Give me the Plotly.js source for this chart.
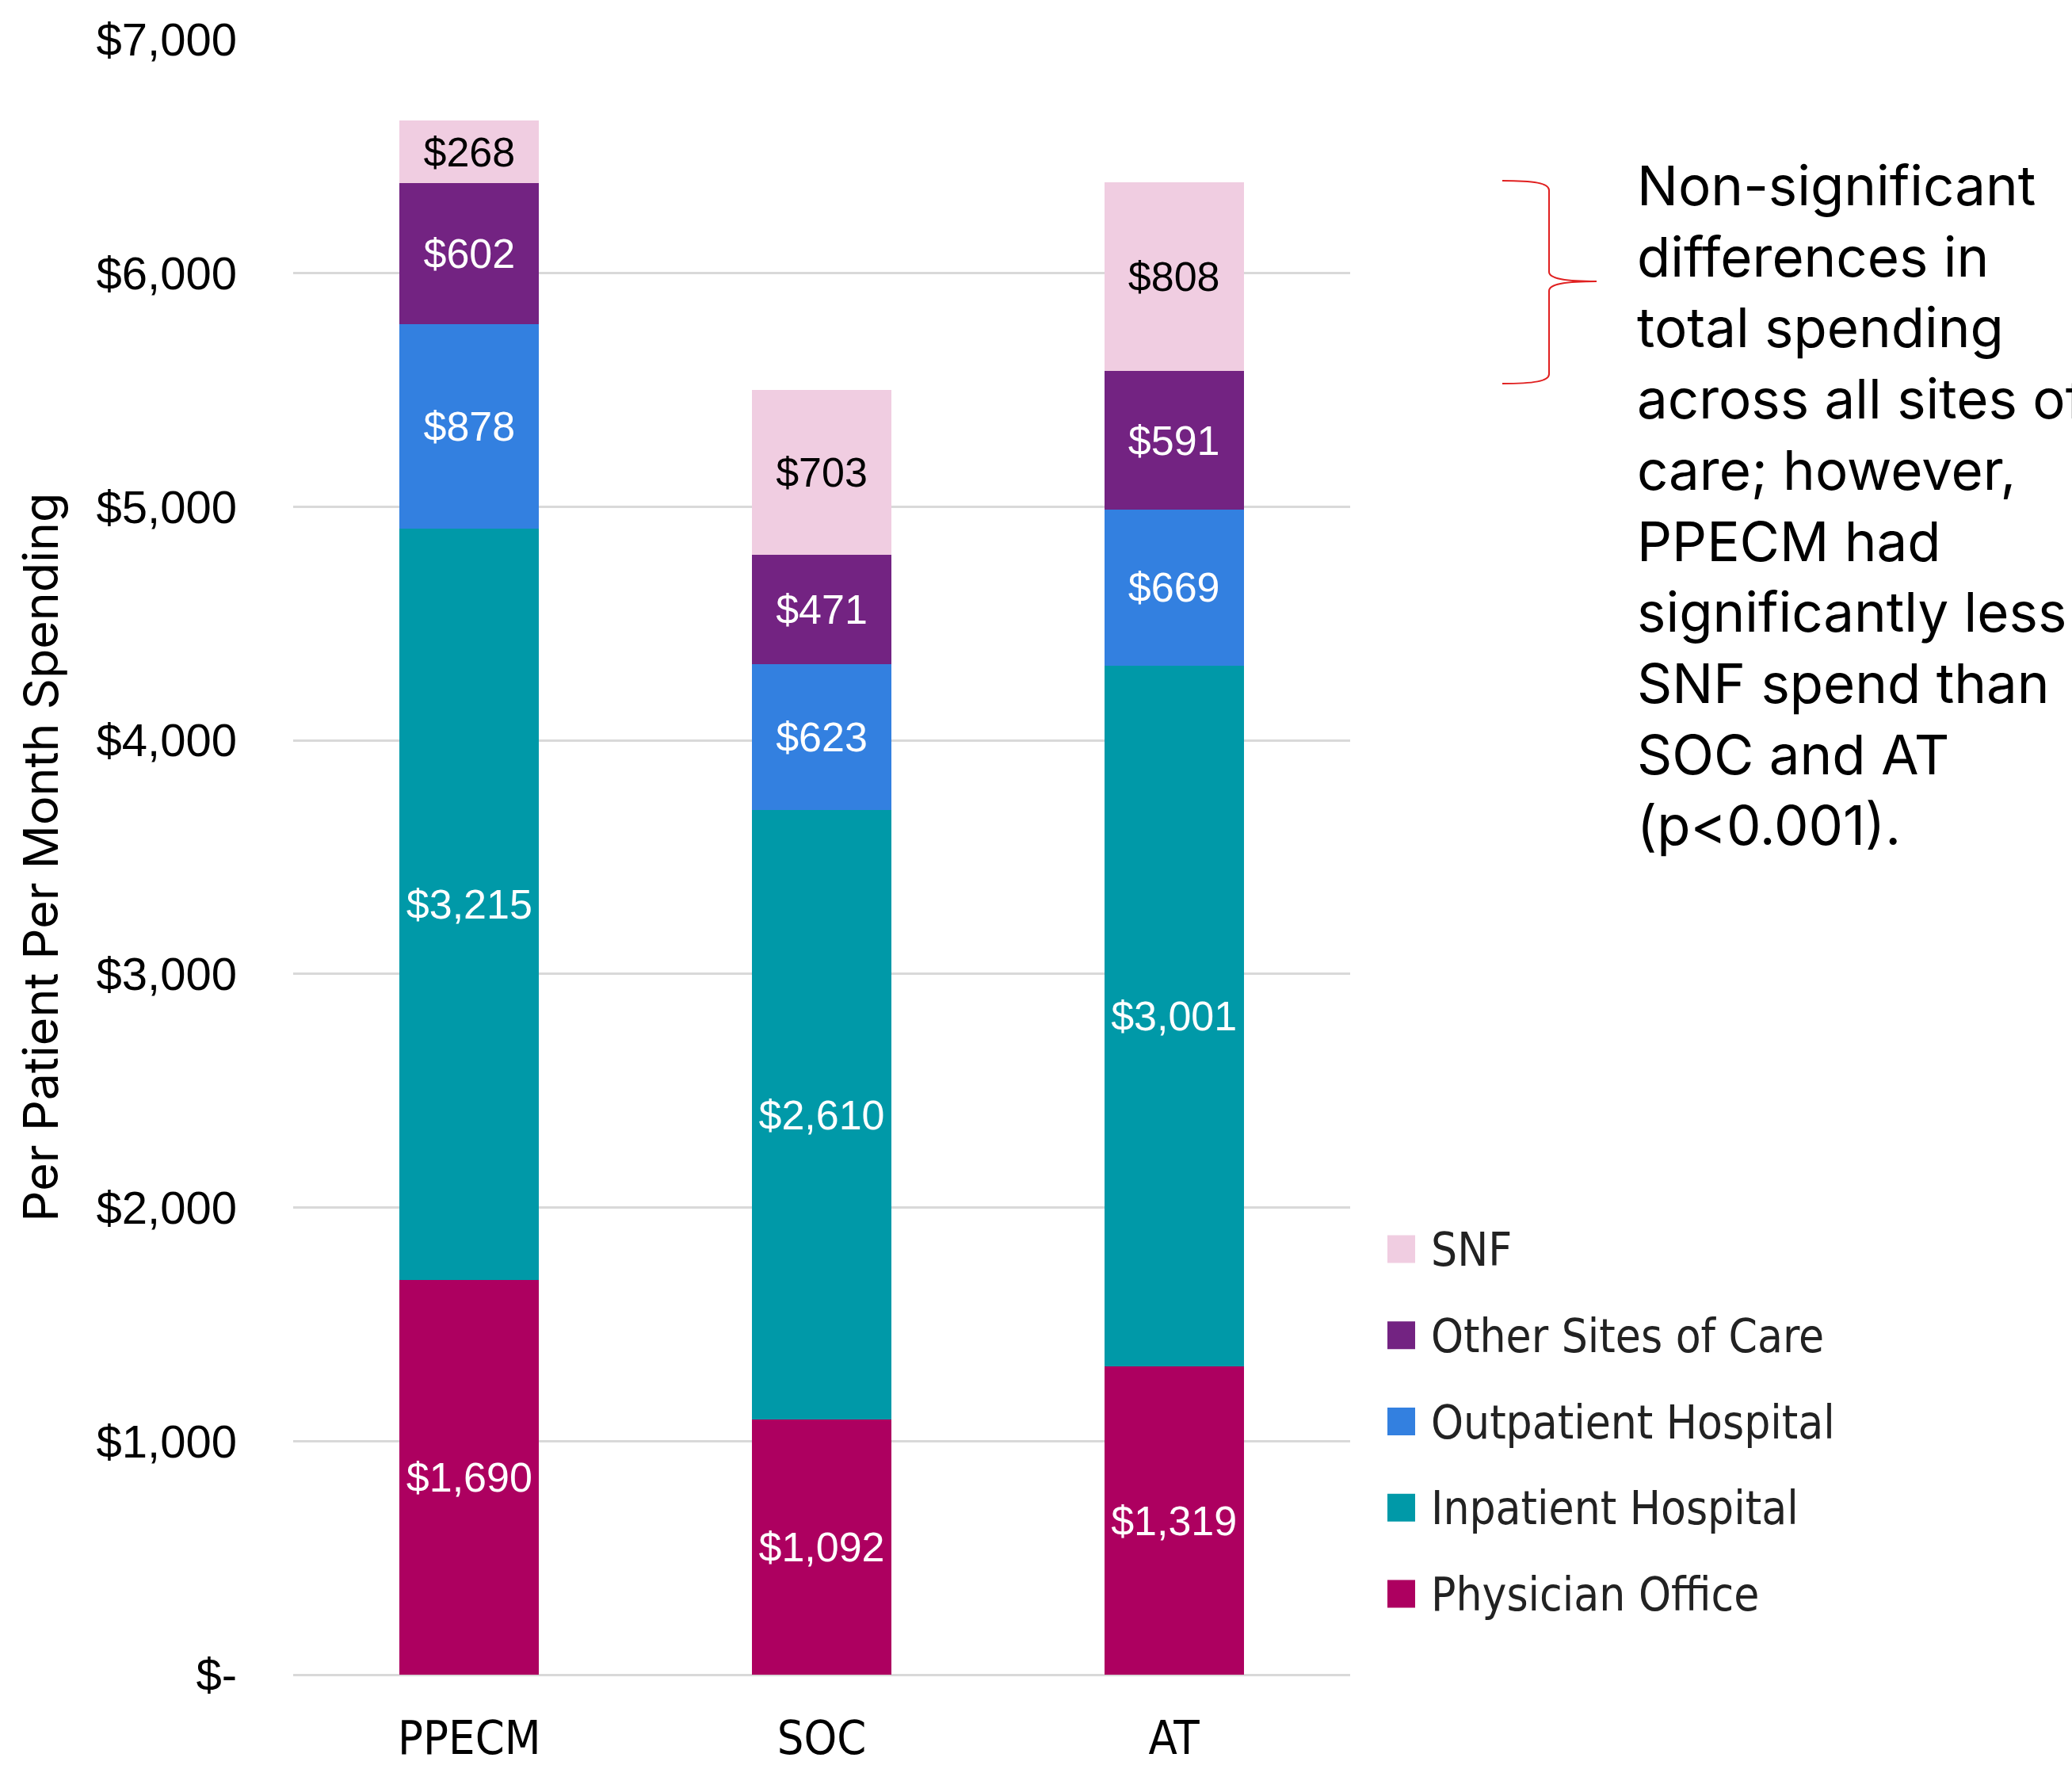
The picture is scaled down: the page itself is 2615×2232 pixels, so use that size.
<!DOCTYPE html>
<html>
<head>
<meta charset="utf-8">
<script src="https://cdn.plot.ly/plotly-3.0.1.min.js"></script>
<style>html,body{margin:0;padding:0;background:#fff;}#chart{width:2615px;height:2232px;}</style>
</head>
<body>
<div id="chart"></div>
<script>
// ---- data ----
const categories = ["PPECM", "SOC", "AT"];
const physicianOffice = [1690, 1092, 1319];
const inpatientHospital = [3215, 2610, 3001];
const outpatientHospital = [878, 623, 669];
const otherSites = [602, 471, 591];
const snf = [268, 703, 808];
const seriesNames = ["Physician Office", "Inpatient Hospital", "Outpatient Hospital", "Other Sites of Care", "SNF"];
const tickVals = [0, 1000, 2000, 3000, 4000, 5000, 6000, 7000];
const tickText = ["$-", "$1,000", "$2,000", "$3,000", "$4,000", "$5,000", "$6,000", "$7,000"];
const noteText = "Non-significant<br>differences in<br>total spending<br>across all sites of<br>care; however,<br>PPECM had<br>significantly less<br>SNF spend than<br>SOC and AT<br>(p<0.001).";

// ---- styling ----
const colors = ["#AD0060", "#0099A8", "#3380E0", "#732382", "#F0CDE1"];
const textColors = ["#ffffff", "#ffffff", "#ffffff", "#ffffff", "#000000"];
const W = 2615, H = 2232;
const M = {l: 370, r: 911, t: 50, b: 119};
const pw = W - M.l - M.r, ph = H - M.t - M.b;
const px = x => (x - M.l) / pw;
const py = y => (H - M.b - y) / ph;

const seriesValues = [physicianOffice, inpatientHospital, outpatientHospital, otherSites, snf];
const traces = seriesValues.map((vals, i) => ({
  type: "bar",
  name: seriesNames[i],
  x: categories,
  y: vals,
  showlegend: false,
  marker: {color: colors[i], line: {width: 0}},
  texttemplate: "$%{y:,}",
  textposition: "inside",
  insidetextanchor: "middle",
  textangle: 0,
  constraintext: "none",
  textfont: {family: "Liberation Sans, Arial, sans-serif", size: 52, color: textColors[i]},
  hoverinfo: "none"
}));

// curly bracket (pixel positions converted to paper units)
const bp = (x, y) => px(x).toFixed(5) + "," + py(y).toFixed(5);
const bL = 1896, bV = 1955, bT = 2015, yTop = 228, yMid = 355, yBot = 484;
const bracePath =
  "M" + bp(bL, yTop) + " C" + bp(bL + 40, yTop) + " " + bp(bV, yTop + 3) + " " + bp(bV, yTop + 12) +
  " L" + bp(bV, yMid - 12) + " C" + bp(bV, yMid - 4) + " " + bp(bV + 18, yMid) + " " + bp(bT, yMid) +
  " M" + bp(bT, yMid) + " C" + bp(bV + 18, yMid) + " " + bp(bV, yMid + 4) + " " + bp(bV, yMid + 12) +
  " L" + bp(bV, yBot - 12) + " C" + bp(bV, yBot - 3) + " " + bp(bL + 40, yBot) + " " + bp(bL, yBot);

// manual legend (SNF on top, Physician Office at bottom)
const legShapes = [], legAnn = [];
const legTop = 1576, legStep = 108.75, sw = 35;
for (let i = 0; i < seriesNames.length; i++) {
  const k = seriesNames.length - 1 - i;
  const cy = legTop + k * legStep;
  legShapes.push({
    type: "rect", xref: "paper", yref: "paper",
    x0: px(1751), x1: px(1751 + sw), y0: py(cy - sw / 2), y1: py(cy + sw / 2),
    fillcolor: colors[i], line: {width: 0}
  });
  legAnn.push({
    xref: "paper", yref: "paper",
    x: px(1804), y: py(cy + 1),
    xanchor: "left", yanchor: "middle",
    showarrow: false,
    text: seriesNames[i],
    font: {family: "DejaVu Sans Condensed, DejaVu Sans, sans-serif", size: 58, color: "#222222"}
  });
}

const layout = {
  width: W, height: H,
  margin: M,
  paper_bgcolor: "#ffffff",
  plot_bgcolor: "#ffffff",
  barmode: "stack",
  bargap: 0.604,
  showlegend: false,
  xaxis: {
    type: "category",
    showgrid: false,
    showline: false,
    zeroline: false,
    ticks: "",
    ticklabelstandoff: 40,
    tickfont: {family: "DejaVu Sans Condensed, DejaVu Sans, sans-serif", size: 59, color: "#000000"}
  },
  yaxis: {
    range: [0, 7000],
    tickmode: "array",
    tickvals: tickVals,
    ticktext: tickText,
    showgrid: true,
    gridcolor: "#d9d9d9",
    gridwidth: 3,
    zeroline: true,
    zerolinecolor: "#d9d9d9",
    zerolinewidth: 3,
    showline: false,
    ticks: "",
    ticklabelstandoff: 70,
    tickfont: {family: "Liberation Sans, Arial, sans-serif", size: 58, color: "#000000"},
    title: {
      text: "Per Patient Per Month Spending",
      standoff: 28,
      font: {family: "Inter, Open Sans, sans-serif", size: 61, color: "#000000"}
    }
  },
  shapes: [{
    type: "path", xref: "paper", yref: "paper",
    path: bracePath,
    line: {color: "#E02020", width: 2}
  }].concat(legShapes),
  annotations: [{
    xref: "paper", yref: "paper",
    x: px(2064), y: py(190),
    xanchor: "left", yanchor: "top",
    align: "left",
    showarrow: false,
    text: noteText,
    font: {family: "Inter, Open Sans, sans-serif", size: 69, color: "#000000"}
  }].concat(legAnn)
};

Plotly.newPlot("chart", traces, layout, {staticPlot: true});
</script>
</body>
</html>
